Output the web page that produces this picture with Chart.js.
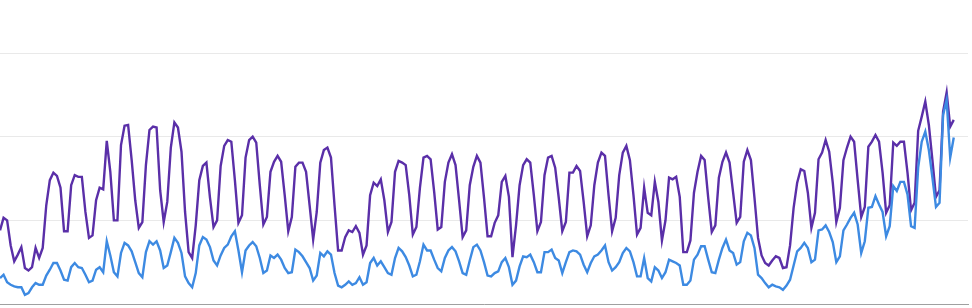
<!DOCTYPE html>
<html>
<head>
<meta charset="utf-8">
<script src="https://cdn.jsdelivr.net/npm/chart.js@4"></script>
<style>
  html, body { margin: 0; padding: 0; background: #fff; }
</style>
</head>
<body>
<canvas id="trafficChart" width="972" height="308"></canvas>
<script>
// daily values (no axis labels are shown)
const purpleSeries = [
  88, 103, 100, 70, 51, 59, 68, 43, 40, 44,
  67, 55, 67, 118, 148, 157, 153, 139, 87, 87,
  142, 154, 152, 152, 110, 79, 82, 124, 139, 137,
  195, 158, 100, 100, 190, 213, 214, 172, 124, 91,
  98, 166, 208, 212, 211, 136, 98, 122, 187, 217,
  211, 182, 110, 62, 55, 94, 148, 165, 169, 127,
  92, 100, 165, 189, 196, 194, 148, 97, 106, 175,
  196, 200, 193, 142, 95, 104, 158, 170, 177, 170,
  130, 87, 104, 164, 169, 169, 158, 118, 77, 110,
  169, 184, 187, 175, 118, 64, 64, 80, 88, 86,
  93, 85, 59, 70, 130, 145, 141, 149, 124, 86,
  98, 158, 171, 169, 166, 130, 83, 92, 139, 175,
  177, 173, 134, 89, 92, 146, 169, 179, 166, 124,
  80, 88, 142, 164, 177, 169, 127, 81, 81, 97,
  106, 146, 153, 128, 56, 94, 142, 166, 173, 169,
  130, 87, 98, 154, 175, 177, 163, 127, 87, 98,
  157, 157, 165, 159, 122, 81, 94, 142, 169, 181,
  177, 130, 87, 103, 154, 181, 189, 172, 130, 83,
  91, 139, 109, 106, 146, 122, 76, 100, 151, 149,
  152, 128, 62, 62, 76, 133, 158, 177, 172, 127,
  86, 94, 151, 170, 181, 169, 133, 97, 104, 170,
  184, 172, 127, 79, 58, 49, 46, 52, 57, 55,
  43, 44, 70, 115, 145, 161, 159, 133, 91, 109,
  173, 181, 196, 182, 145, 98, 115, 172, 187, 200,
  194, 148, 104, 116, 188, 194, 202, 194, 157, 109,
  118, 193, 189, 194, 194, 157, 112, 121, 207, 224,
  242, 214, 172, 128, 136, 230, 253, 212, 220
];

const blueSeries = [
  31, 35, 26, 23, 21, 20, 20, 11, 13, 20,
  25, 23, 23, 34, 41, 49, 49, 40, 29, 28,
  44, 49, 44, 43, 35, 26, 28, 41, 44, 38,
  75, 58, 38, 33, 61, 73, 70, 63, 50, 37,
  32, 62, 75, 71, 75, 64, 43, 46, 62, 79,
  73, 61, 33, 25, 20, 37, 70, 80, 77, 68,
  52, 46, 58, 67, 71, 81, 87, 64, 38, 64,
  70, 74, 69, 55, 37, 40, 58, 55, 59, 53,
  43, 37, 38, 65, 62, 57, 50, 43, 28, 34,
  61, 57, 63, 59, 37, 22, 20, 23, 27, 23,
  25, 32, 23, 26, 49, 55, 46, 51, 44, 37,
  35, 55, 67, 63, 56, 46, 33, 35, 51, 71,
  64, 64, 53, 43, 39, 55, 64, 68, 63, 51,
  37, 35, 52, 68, 71, 64, 50, 34, 33, 37,
  39, 50, 55, 44, 23, 28, 45, 57, 56, 59,
  50, 38, 38, 62, 62, 65, 55, 52, 37, 50,
  62, 64, 63, 59, 47, 38, 49, 57, 59, 64,
  70, 50, 40, 44, 50, 61, 67, 63, 50, 33,
  33, 55, 31, 27, 44, 40, 31, 38, 53, 51,
  49, 46, 23, 23, 28, 53, 59, 69, 69, 53,
  38, 37, 53, 67, 77, 64, 61, 47, 50, 75,
  85, 82, 67, 35, 31, 25, 20, 23, 21, 20,
  17, 22, 29, 46, 63, 67, 73, 67, 50, 53,
  88, 89, 94, 86, 74, 50, 57, 88, 95, 103,
  109, 95, 61, 75, 115, 116, 129, 119, 110, 81,
  93, 141, 135, 146, 146, 131, 93, 91, 163, 194,
  206, 184, 151, 116, 121, 226, 244, 175, 199
];

// one label per day; the axis runs a few days past the last value
const dayLabels = Array.from({ length: 273 }, (_, i) => 'Day ' + (i + 1));

new Chart(
  document.getElementById('trafficChart'),
  {
    type: 'line',

    data: {
      labels: dayLabels,

      datasets: [
        {
          label: 'Blue',
          data: blueSeries,
          borderColor: '#3d8ae2',
          borderWidth: 2.4,
          pointRadius: 0,
          tension: 0
        },
        {
          label: 'Purple',
          data: purpleSeries,
          borderColor: '#5a2fa8',
          borderWidth: 2.4,
          pointRadius: 0,
          tension: 0
        }
      ]
    },

    options: {
      responsive: false,
      animation: false,
      layout: {
        padding: { top: 53, right: 4, bottom: 4, left: 0 }
      },
      plugins: {
        legend: { display: false },
        tooltip: { enabled: false }
      },
      scales: {
        x: {
          offset: false,
          grid: { display: false, drawTicks: false },
          ticks: { display: false },
          border: { display: true, color: '#a0a0a0', width: 1 }
        },
        y: {
          min: 0,
          max: 300,
          ticks: { display: false, stepSize: 100 },
          grid: { color: '#e9e9e9', drawTicks: false },
          border: { display: false }
        }
      }
    }
  }
);
</script>
</body>
</html>
